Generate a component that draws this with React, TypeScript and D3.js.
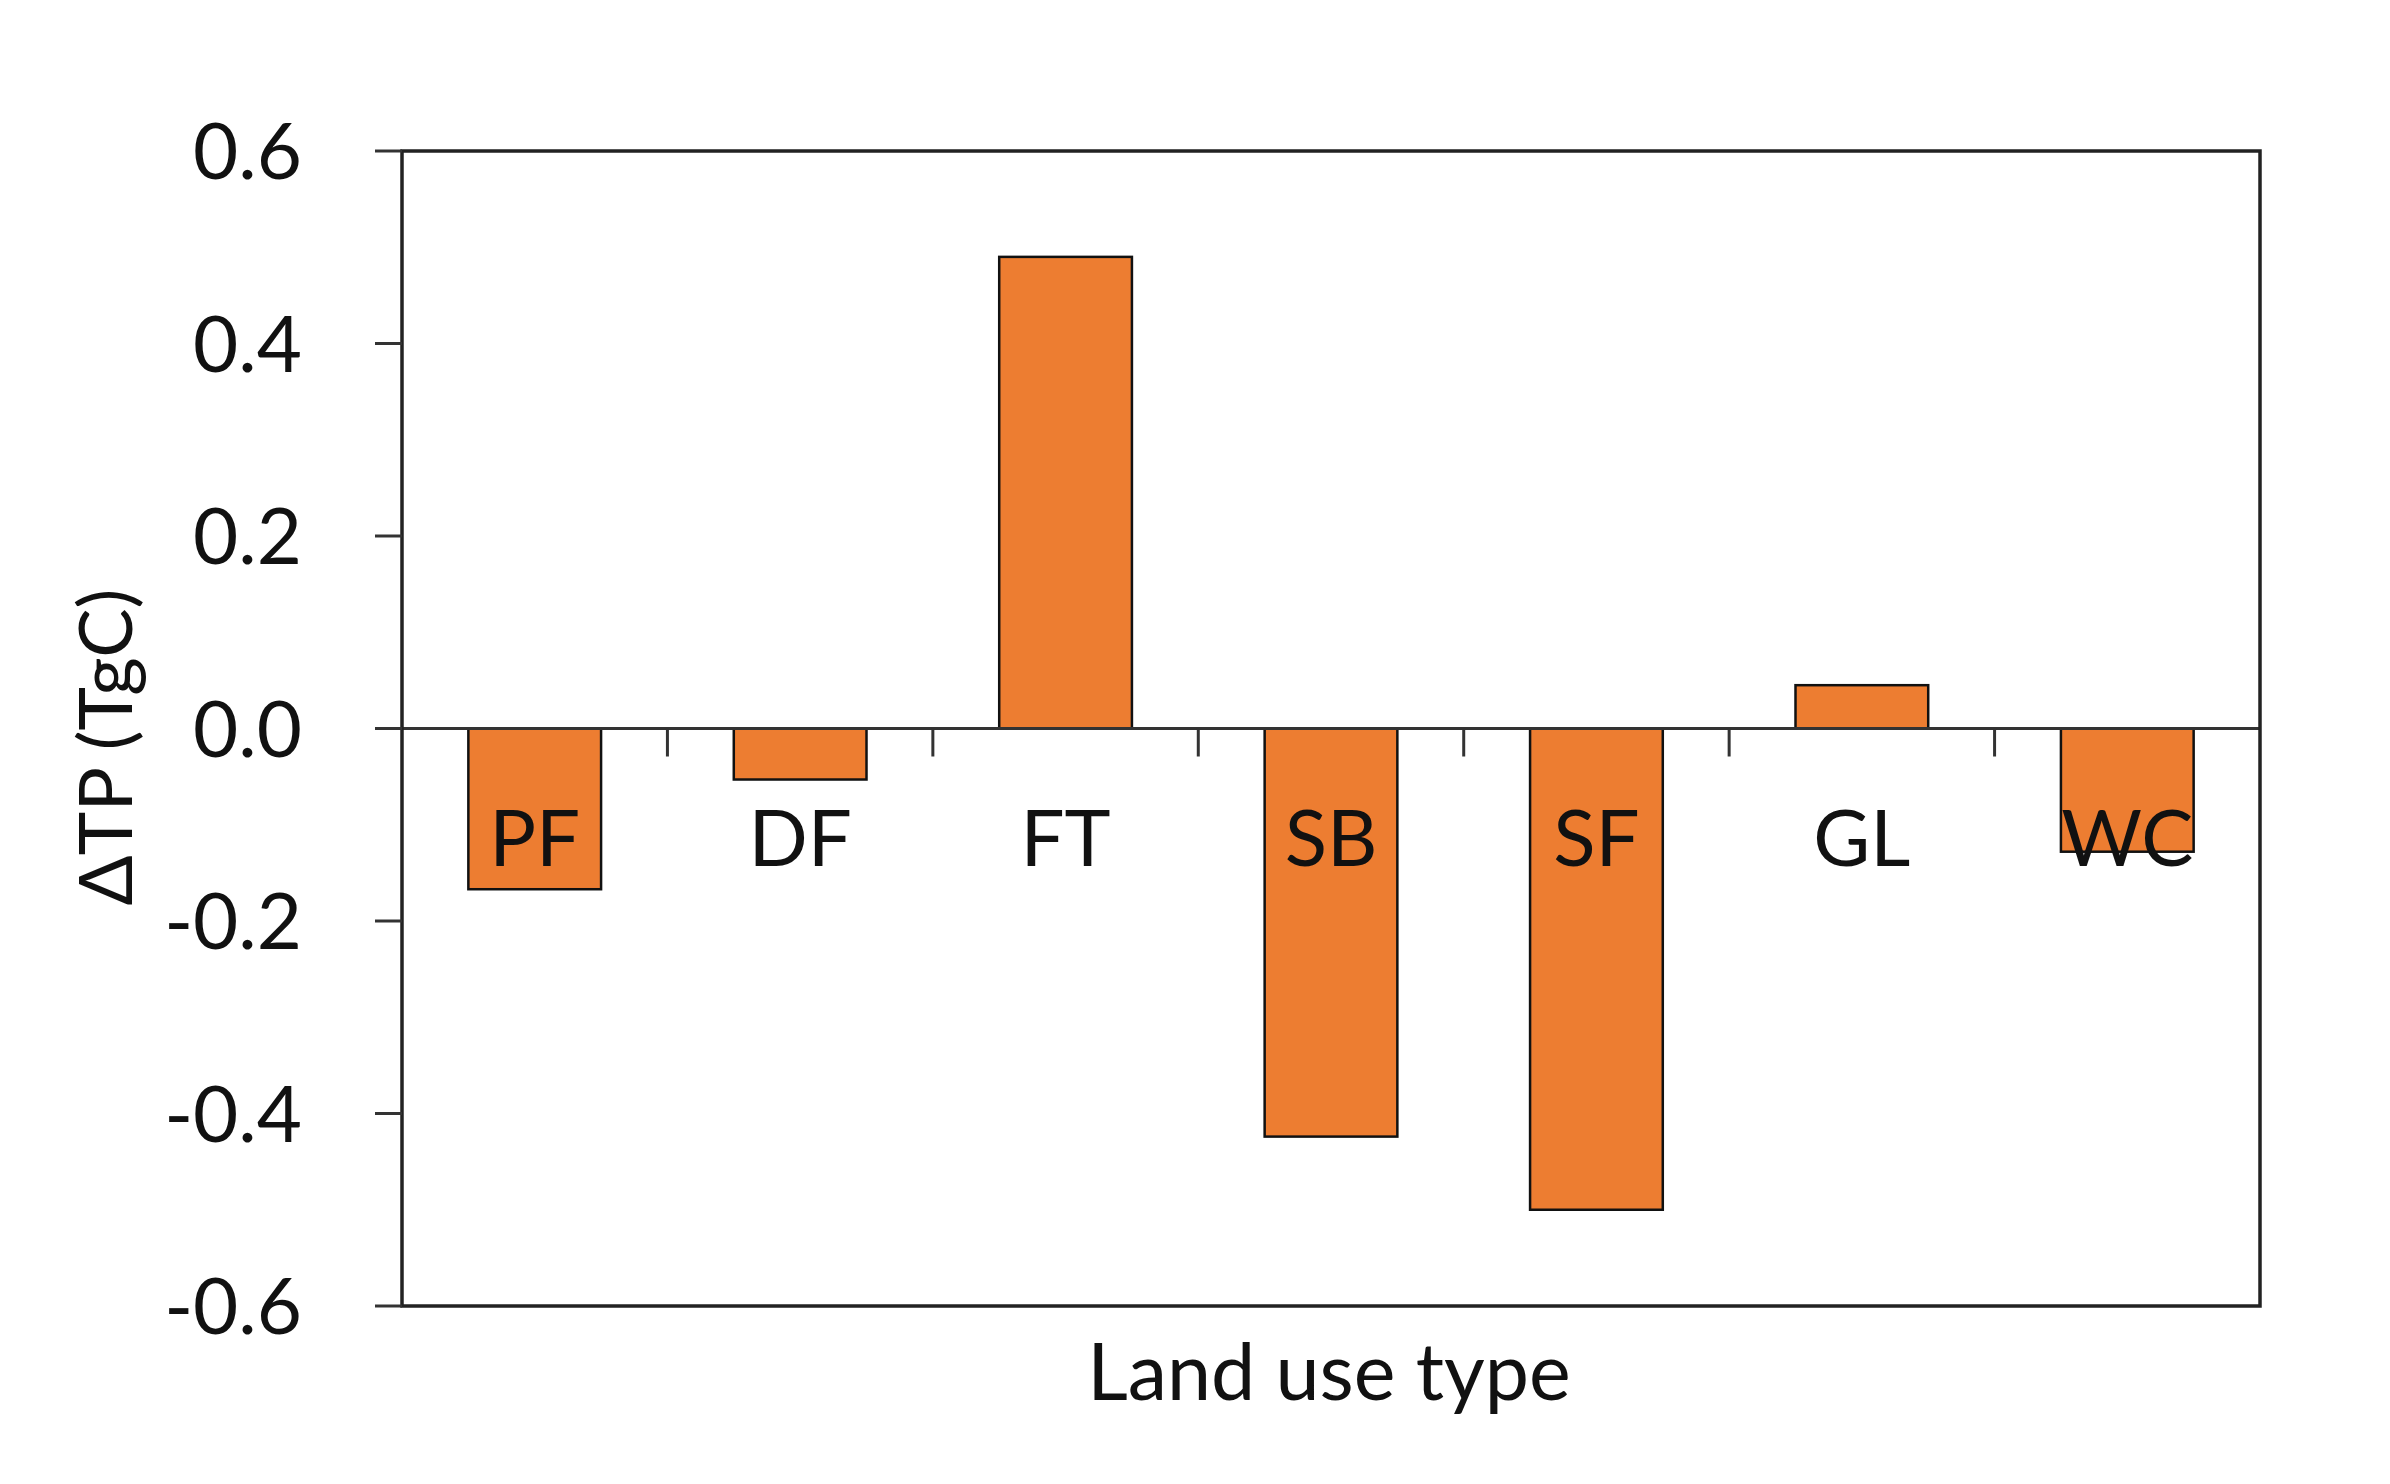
import React from "react";
import * as d3 from "d3";

const categories = ["PF", "DF", "FT", "SB", "SF", "GL", "WC"];
const values = [-0.167, -0.053, 0.49, -0.424, -0.5, 0.045, -0.128];
const yTicks = [0.6, 0.4, 0.2, 0.0, -0.2, -0.4, -0.6];
const yTitle = "ΔTP (TgC)";
const xTitle = "Land use type";

const W = 2390;
const H = 1484;
const M = { left: 402, right: 2260, top: 151, bottom: 1306 };
const FONT = "Lato, 'Open Sans', sans-serif";

export default function App() {
  const x = d3.scaleBand<string>().domain(categories).range([M.left, M.right]).paddingInner(0.5).paddingOuter(0.25);
  const y = d3.scaleLinear().domain([-0.6, 0.6]).range([M.bottom, M.top]);
  const y0 = y(0);
  const step = x.step();
  const boundaries = categories.slice(1).map((c) => (x(c) as number) - (step - x.bandwidth()) / 2);

  return (
    <svg width={W} height={H} style={{ position: "absolute", left: 0, top: 0, background: "#fff" }} fontFamily={FONT}>
      <rect x={0} y={0} width={W} height={H} fill="#fff" />
      {/* bars */}
      {categories.map((c, i) => {
        const v = values[i];
        const top = Math.min(y(v), y0);
        const h = Math.abs(y(v) - y0);
        return (
          <rect key={c} x={x(c)} y={top} width={x.bandwidth()} height={h} fill="#ED7D31" stroke="#111" strokeWidth={2.5} />
        );
      })}
      {/* zero line */}
      <line x1={M.left} x2={M.right} y1={y0} y2={y0} stroke="#333" strokeWidth={3} />
      {boundaries.map((b, i) => (
        <line key={i} x1={b} x2={b} y1={y0} y2={y0 + 28} stroke="#333" strokeWidth={3} />
      ))}
      {/* frame */}
      <rect x={M.left} y={M.top} width={M.right - M.left} height={M.bottom - M.top} fill="none" stroke="#222" strokeWidth={3.5} />
      {/* y ticks */}
      {yTicks.map((t) => (
        <g key={t}>
          <line x1={M.left - 27} x2={M.left} y1={y(t)} y2={y(t)} stroke="#333" strokeWidth={3} />
          <text x={302} y={y(t)} dy="0.36em" textAnchor="end" fontSize={78} fill="#111">
            {d3.format(".1f")(t).replace("−", "-")}
          </text>
        </g>
      ))}
      {/* category labels */}
      {categories.map((c) => (
        <text key={c} x={(x(c) as number) + x.bandwidth() / 2} y={866} textAnchor="middle" fontSize={78} fill="#111">
          {c}
        </text>
      ))}
      {/* axis titles */}
      <text x={1329} y={1400} textAnchor="middle" fontSize={79} fill="#111">
        {xTitle}
      </text>
      <text transform={`translate(132, 747) rotate(-90)`} textAnchor="middle" fontSize={74} fill="#111">
        {yTitle}
      </text>
    </svg>
  );
}
